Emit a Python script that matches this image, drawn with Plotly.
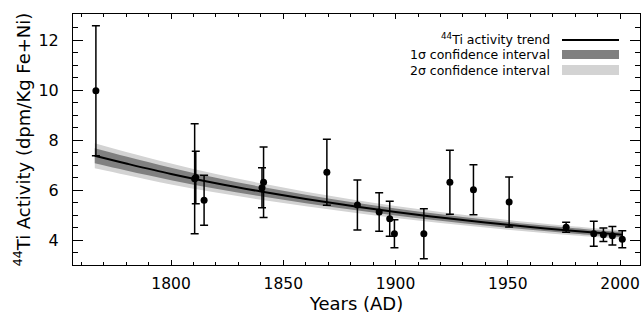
import plotly.graph_objects as go

# ---- measured data points ----
years = [1766.5, 1810.5, 1811.0, 1814.7, 1840.5, 1841.2, 1869.4, 1883.0, 1892.7, 1897.4,
         1899.5, 1912.6, 1924.2, 1934.7, 1950.6, 1976.0, 1988.3, 1992.6, 1996.6, 2001.0]
activity = [9.97, 6.45, 6.50, 5.59, 6.09, 6.31, 6.71, 5.40, 5.12, 4.85,
            4.25, 4.25, 6.31, 6.01, 5.52, 4.51, 4.25, 4.21, 4.17, 4.03]
activity_err = [2.60, 2.20, 1.05, 1.00, 0.80, 1.41, 1.32, 1.00, 0.77, 0.70,
                0.56, 1.00, 1.28, 1.00, 1.00, 0.20, 0.50, 0.27, 0.37, 0.34]

# ---- trend and confidence intervals ----
trend_years = [1766, 1780, 1800, 1820, 1840, 1860, 1880, 1900, 1920, 1940, 1960, 1980, 2001]
trend = [7.37, 7.06, 6.64, 6.27, 5.94, 5.64, 5.37, 5.12, 4.90, 4.70, 4.52, 4.36, 4.21]
sigma1 = [0.30, 0.28, 0.25, 0.22, 0.19, 0.17, 0.15, 0.14, 0.13, 0.12, 0.11, 0.105, 0.10]
sigma2 = [0.50, 0.46, 0.42, 0.37, 0.33, 0.29, 0.26, 0.24, 0.22, 0.20, 0.19, 0.18, 0.17]

legend_labels = ["<sup>44</sup>Ti activity trend", "1σ confidence interval", "2σ confidence interval"]

C1 = "#808080"
C2 = "#d3d3d3"
FONT = "DejaVu Sans"

fig = go.Figure()

def band(half, color):
    up = [t + h for t, h in zip(trend, half)]
    lo = [t - h for t, h in zip(trend, half)]
    fig.add_trace(go.Scatter(x=trend_years, y=up, mode="lines", line=dict(width=0, color=color, shape="spline"),
                             hoverinfo="skip", showlegend=False))
    fig.add_trace(go.Scatter(x=trend_years, y=lo, mode="lines", line=dict(width=0, color=color, shape="spline"),
                             fill="tonexty", fillcolor=color, hoverinfo="skip", showlegend=False))

band(sigma2, C2)
band(sigma1, C1)

fig.add_trace(go.Scatter(x=trend_years, y=trend, mode="lines",
                         line=dict(color="black", width=2, shape="spline"), showlegend=False))

fig.add_trace(go.Scatter(x=years, y=activity, mode="markers",
                         marker=dict(color="black", size=7),
                         error_y=dict(type="data", array=activity_err, visible=True,
                                      color="black", thickness=1.5, width=4),
                         showlegend=False))

# ---- legend built by hand (symbols to the right of the text) ----
W, H = 567.0, 251.0
def px(x):
    return (x - 73) / W
def py(y):
    return (265 - y) / H

fig.add_shape(type="line", xref="paper", yref="paper", x0=px(562), x1=px(619), y0=py(40), y1=py(40),
              line=dict(color="black", width=2))
fig.add_shape(type="rect", xref="paper", yref="paper", x0=px(562), x1=px(619), y0=py(59), y1=py(50),
              line=dict(width=0), fillcolor=C1)
fig.add_shape(type="rect", xref="paper", yref="paper", x0=px(562), x1=px(619), y0=py(75), y1=py(65),
              line=dict(width=0), fillcolor=C2)
for lab, yy in zip(legend_labels, [39, 54.5, 70]):
    fig.add_annotation(text=lab, xref="paper", yref="paper", x=px(552), y=py(yy),
                       xanchor="right", yanchor="middle", showarrow=False,
                       font=dict(family=FONT, size=12.5, color="black"))

fig.update_layout(
    width=641, height=318,
    margin=dict(l=73, r=1, t=14, b=53, autoexpand=False),
    paper_bgcolor="white", plot_bgcolor="white",
    font=dict(family=FONT, size=16, color="black"),
    showlegend=False,
)
fig.update_xaxes(range=[1756.3, 2008.9], showgrid=False, zeroline=False, automargin=False,
                 showline=True, linecolor="black", linewidth=1, mirror="ticks",
                 ticks="inside", ticklen=5, tickcolor="black", dtick=50, tick0=1800,
                 minor=dict(ticks="inside", ticklen=3, dtick=10, tickcolor="black"),
                 tickfont=dict(family=FONT, size=15.5), ticklabelstandoff=4,
                 title=dict(text="Years (AD)", font=dict(family=FONT, size=18), standoff=2))
fig.update_yaxes(range=[3, 13.04], showgrid=False, zeroline=False, automargin=False,
                 showline=True, linecolor="black", linewidth=1, mirror="ticks",
                 ticks="inside", ticklen=10, tickcolor="black", dtick=2, tick0=0,
                 minor=dict(ticks="inside", ticklen=5, dtick=0.5, tickcolor="black"),
                 tickfont=dict(family=FONT, size=16), ticklabelstandoff=10,
                 title=dict(text="<sup>44</sup>Ti Activity (dpm/Kg Fe+Ni)", font=dict(family=FONT, size=18), standoff=3))

fig.write_html("out.html", config={"displayModeBar": False},
               post_script="document.body.style.margin='0';document.body.style.overflow='hidden';")
